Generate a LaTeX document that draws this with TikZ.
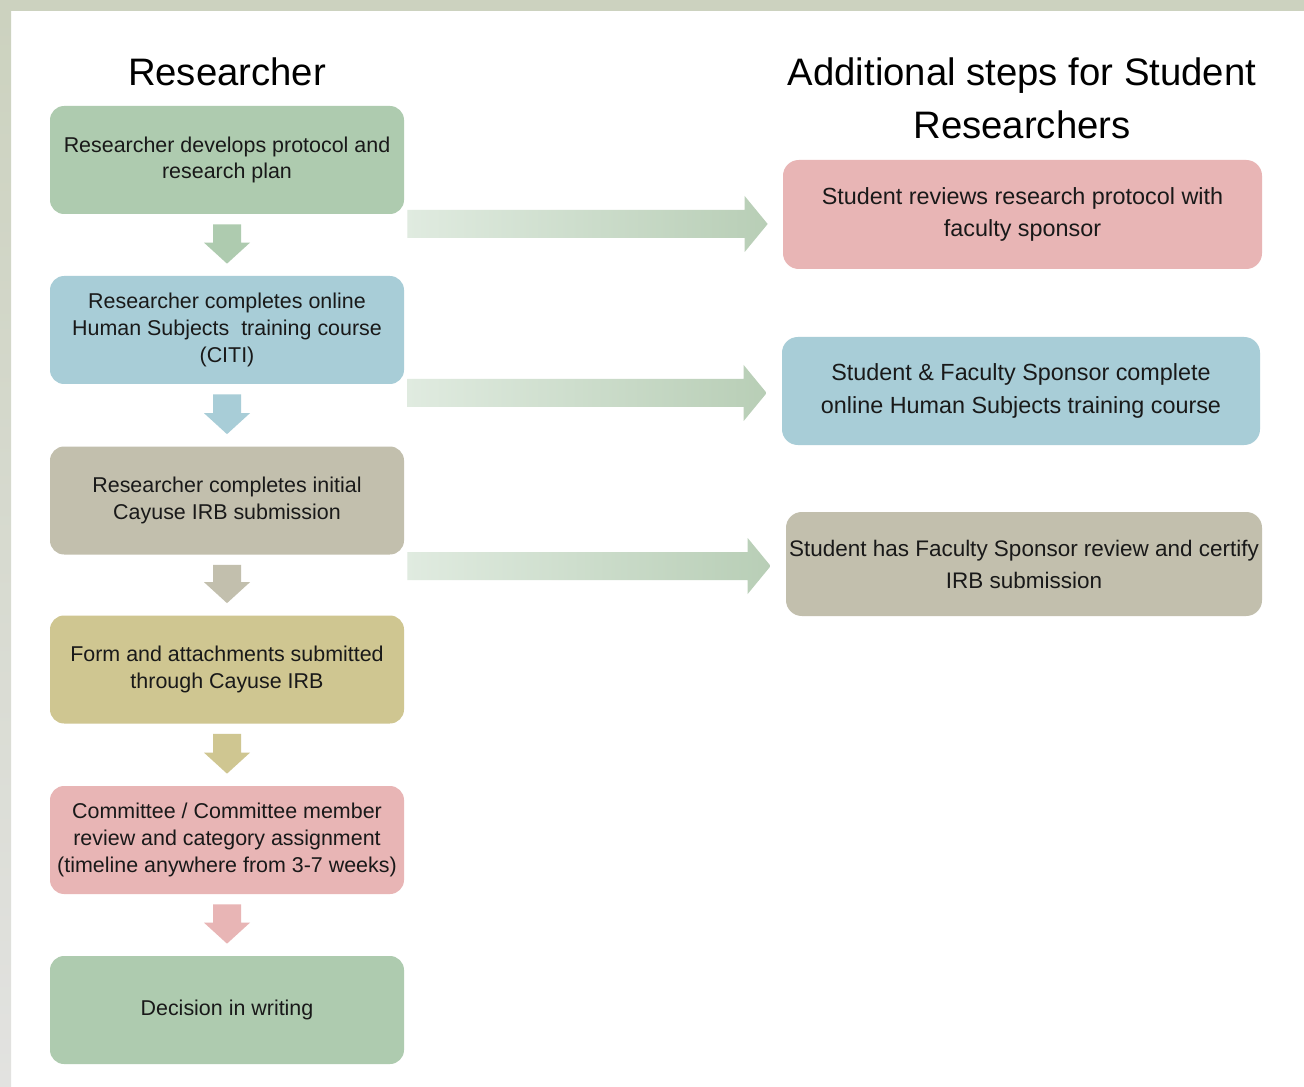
\documentclass[tikz,border=0pt]{standalone}
\usepackage{fontspec}
\setmainfont{Liberation Sans}
\usetikzlibrary{calc}
\definecolor{bgreen}{RGB}{174,203,175}
\definecolor{bblue}{RGB}{168,205,215}
\definecolor{bgrey}{RGB}{194,191,173}
\definecolor{byellow}{RGB}{207,198,145}
\definecolor{bpink}{RGB}{232,181,181}
\definecolor{arrL}{RGB}{224,235,224}
\definecolor{arrR}{RGB}{184,206,182}
\definecolor{band}{RGB}{204,210,191}
\definecolor{bandlow}{RGB}{226,226,224}
\definecolor{txt}{RGB}{25,25,25}
\newcommand\dnarr[3]{%
  \fill[#3] ($(#1.south)+(-14,10)$) -- ($(#1.south)+(14,10)$) -- ($(#2.north)+(14,-33)$)
    -- ($(#2.north)+(23,-33)$) -- ($(#2.north)+(0,-12)$) -- ($(#2.north)+(-23,-33)$)
    -- ($(#2.north)+(-14,-33)$) -- cycle;}
\newcommand\rtarr[3]{%
  \shade[left color=arrL, right color=arrR]
    ($(#1.east|-#2.west)+(3,#3-14)$) -- ($(#2.west)+(-38,#3-14)$) -- ($(#2.west)+(-38,#3-28)$)
    -- ($(#2.west)+(-15,#3)$) -- ($(#2.west)+(-38,#3+28)$) -- ($(#2.west)+(-38,#3+14)$)
    -- ($(#1.east|-#2.west)+(3,#3+14)$) -- cycle;}
\begin{document}
\begin{tikzpicture}[x=0.02cm,y=-0.02cm,
  lbox/.style={rounded corners=8pt, inner sep=0pt, minimum width=354*0.02cm, minimum height=108*0.02cm,
    align=center, text=txt, font=\fontsize{12.2pt}{15.2pt}\selectfont},
  rbox/.style={rounded corners=9pt, inner sep=0pt, minimum width=478*0.02cm, minimum height=108*0.02cm,
    align=center, text=txt, font=\fontsize{13.3pt}{18.7pt}\selectfont},
  title/.style={align=center, text=black, inner sep=0pt, font=\fontsize{21.8pt}{30pt}\selectfont}]
\useasboundingbox (0,0) rectangle (1304,1087);
\fill[white] (0,0) rectangle (1304,1087);
\fill[band] (0,0) rectangle (1304,11);
\shade[top color=band, bottom color=bandlow] (0,11) rectangle (11,1087);
% titles
\node[title] (t1) at (227,72) {Researcher};
\node[title] (t2) at (1022,98) {Additional steps for Student\\Researchers};
% left column
\node[lbox, fill=bgreen] (b1) at (227,160) {Researcher develops protocol and\\research plan};
\node[lbox, fill=bblue] (b2) at (227,330) {Researcher completes online\\Human Subjects\ \ training course\\(CITI)};
\node[lbox, fill=bgrey] (b3) at (227,500.5) {Researcher completes initial\\Cayuse IRB submission};
\node[lbox, fill=byellow] (b4) at (227,669.5) {Form and attachments submitted\\through Cayuse IRB};
\node[lbox, fill=bpink] (b5) at (227,840) {Committee / Committee member\\review and category assignment\\(timeline anywhere from 3-7 weeks)};
\node[lbox, fill=bgreen] (b6) at (227,1010) {Decision in writing};
% right column
\node[rbox, fill=bpink, minimum width=479*0.02cm, minimum height=109*0.02cm] (r1) at (1022.5,214.5) {Student reviews research protocol with\\faculty sponsor};
\node[rbox, fill=bblue] (r2) at (1021,391) {Student \& Faculty Sponsor complete\\online Human Subjects training course};
\node[rbox, fill=bgrey, minimum width=476*0.02cm, minimum height=104*0.02cm,
  font=\fontsize{12.8pt}{18.2pt}\selectfont] (r3) at (1024,564) {Student has Faculty Sponsor review and certify\\IRB submission};
% down arrows
\dnarr{b1}{b2}{bgreen}
\dnarr{b2}{b3}{bblue}
\dnarr{b3}{b4}{bgrey}
\dnarr{b4}{b5}{byellow}
\dnarr{b5}{b6}{bpink}
% right arrows
\rtarr{b1}{r1}{9.5}
\rtarr{b2}{r2}{2}
\rtarr{b3}{r3}{2}
\end{tikzpicture}
\end{document}
